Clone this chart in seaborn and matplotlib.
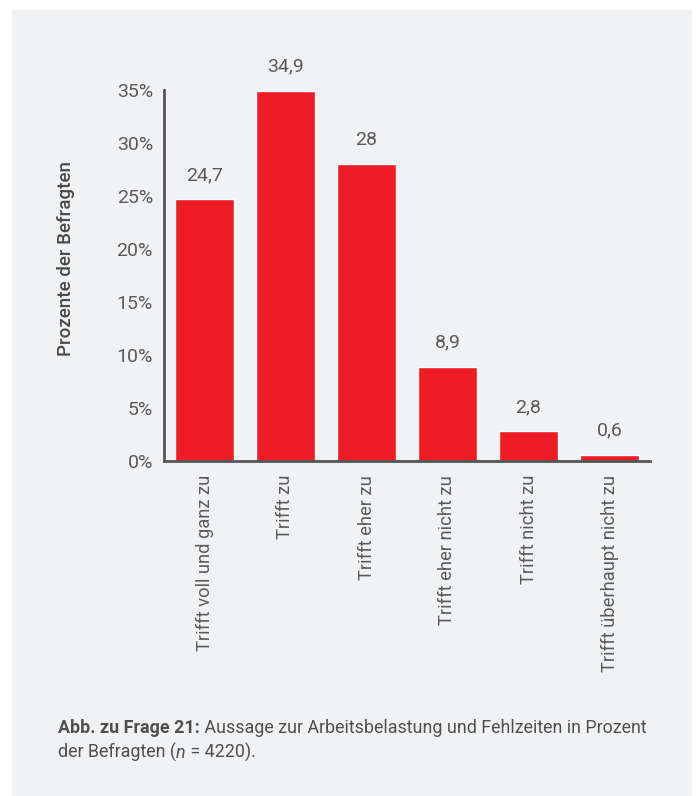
import matplotlib
matplotlib.use("Agg")
import matplotlib.pyplot as plt
import seaborn as sns
import pandas as pd
from matplotlib.patches import Rectangle

# data
categories = ["Trifft voll und ganz zu", "Trifft zu", "Trifft eher zu",
              "Trifft eher nicht zu", "Trifft nicht zu", "Trifft überhaupt nicht zu"]
values = [24.7, 34.9, 28.0, 8.9, 2.8, 0.6]
value_labels = ["24,7", "34,9", "28", "8,9", "2,8", "0,6"]
y_ticks = [0, 5, 10, 15, 20, 25, 30, 35]

BAR = "#ee1c25"
TXT = "#5a5a5a"
AXC = "#555555"
PANEL = "#f1f2f4"

sns.set_theme(style="white")
plt.rcParams["font.family"] = ["Roboto", "DejaVu Sans"]

df = pd.DataFrame({"cat": categories, "val": values})

fig = plt.figure(figsize=(6.97, 7.96), dpi=100)
fig.patch.set_facecolor("white")
fig.patches.append(Rectangle((12 / 697, 0), 680 / 697, 1 - 10 / 796,
                             transform=fig.transFigure, facecolor=PANEL,
                             edgecolor="none", zorder=-10))

ax = fig.add_axes([164 / 697, 1 - 461 / 796, (650 - 164) / 697, (461 - 90) / 796])
ax.set_facecolor("none")
sns.barplot(data=df, x="cat", y="val", color=BAR, saturation=1, width=0.73, ax=ax)

ax.set_xlim(-0.5, 5.5)
ax.set_ylim(0, 35)
ax.set_yticks(y_ticks)
ax.set_yticklabels([f"{t}%" for t in y_ticks], fontsize=14, color=TXT)
ax.set_xticks(range(len(categories)))
ax.set_xticklabels(categories, rotation=90, fontsize=13.2, color=TXT)
ax.tick_params(axis="both", length=0)
ax.tick_params(axis="y", pad=8)
ax.tick_params(axis="x", pad=10)

for s in ["top", "right"]:
    ax.spines[s].set_visible(False)
for s in ["left", "bottom"]:
    ax.spines[s].set_color(AXC)
    ax.spines[s].set_linewidth(2)

ax.set_xlabel("")
ax.set_ylabel("Prozente der Befragten", fontsize=13.5, color="#4a4a4a",
              fontweight="medium", va="center")
ax.yaxis.set_label_coords(-0.202, 0.547)

for i, (v, lab) in enumerate(zip(values, value_labels)):
    ax.annotate(lab, (i, v), xytext=(0, 11), textcoords="offset points",
                ha="center", va="bottom", fontsize=14, color=TXT)

# caption with mixed styles
renderer = fig.canvas.get_renderer()


def run_text(x, y, parts):
    for s, kw in parts:
        t = fig.text(x, y, s, fontsize=12.9, color="#4f4f4f", va="baseline",
                     transform=None, **kw)
        bb = t.get_window_extent(renderer=renderer)
        x = bb.x1


h = 796
run_text(58, h - 733, [("Abb. zu Frage 21:", {"fontweight": "bold"}),
                       (" Aussage zur Arbeitsbelastung und Fehlzeiten in Prozent", {})])
run_text(58, h - 758, [("der Befragten (", {}),
                       ("n", {"style": "italic"}),
                       (" = 4220).", {})])

fig.savefig("out.png", dpi=100, facecolor=fig.get_facecolor())
